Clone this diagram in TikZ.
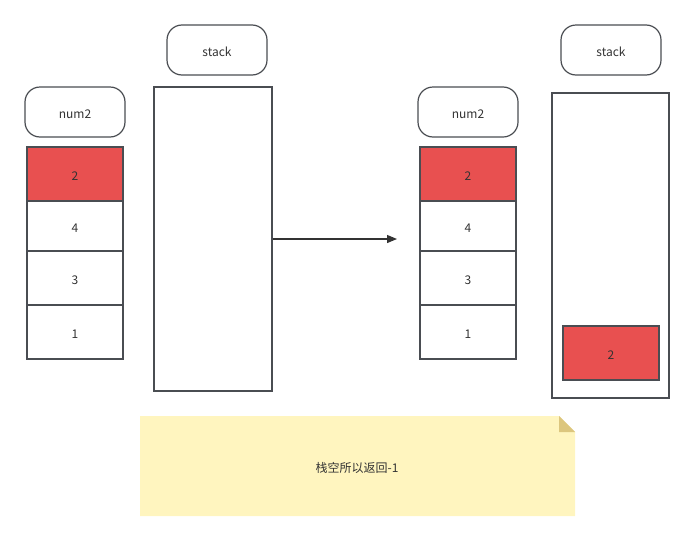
\documentclass[tikz,border=0pt]{standalone}
\usepackage{fontspec}
\setmainfont{Noto Sans CJK SC}
\usetikzlibrary{arrows.meta}
\definecolor{strokec}{HTML}{4A4D52}
\definecolor{redc}{HTML}{E85050}
\definecolor{notec}{HTML}{FFF5BF}
\definecolor{foldc}{HTML}{DCC67E}
\definecolor{textc}{HTML}{333333}
\tikzset{
  every node/.style={font=\fontsize{12}{14}\selectfont, text=textc, text height=12pt, text depth=0pt},
  label box/.style={draw=strokec, line width=1.2pt, rounded corners=15pt, minimum width=100pt, minimum height=50pt, inner sep=0pt, fill=white},
  cell/.style={draw=strokec, line width=1.2pt, minimum width=96pt, inner sep=0pt, fill=white},
  redcell/.style={cell, fill=redc},
  bigbox/.style={draw=strokec, line width=1.2pt, inner sep=0pt, fill=white},
}
\begin{document}
\begin{tikzpicture}[x=1pt,y=-1pt]
\useasboundingbox (0,0) rectangle (695,541);
% left side
\node[label box] (num2L) at (75,112) {num2};
\node[label box] (stackL) at (217,50) {stack};
\node[bigbox, minimum width=118pt, minimum height=304pt] (bigL) at (213,239) {};
\node[redcell, minimum height=54pt] (c2L) at (75,174) {2};
\node[cell, minimum height=50pt] (c4L) at (75,226) {4};
\node[cell, minimum height=54pt] (c3L) at (75,278) {3};
\node[cell, minimum height=54pt] (c1L) at (75,332) {1};
% right side
\node[label box] (num2R) at (468,112) {num2};
\node[label box] (stackR) at (611,50) {stack};
\node[bigbox, minimum width=117pt, minimum height=305pt] (bigR) at (610.5,245.5) {};
\node[redcell, minimum height=54pt] (c2R) at (468,174) {2};
\node[cell, minimum height=50pt] (c4R) at (468,226) {4};
\node[cell, minimum height=54pt] (c3R) at (468,278) {3};
\node[cell, minimum height=54pt] (c1R) at (468,332) {1};
\node[redcell, minimum height=54pt] (inR) at (611,353) {2};
% arrow
\coordinate (arrEnd) at (397,239);
\draw[draw=textc, line width=1.2pt, -{Triangle[length=10pt,width=8pt]}] (bigL.east) -- (arrEnd);
% note
\fill[notec] (140,416) -- (559,416) -- (575,432) -- (575,516) -- (140,516) -- cycle;
\fill[foldc] (559,416) -- (575,432) -- (559,432) -- cycle;
\node (note) at (357,466) {栈空所以返回-1};
\end{tikzpicture}
\end{document}
